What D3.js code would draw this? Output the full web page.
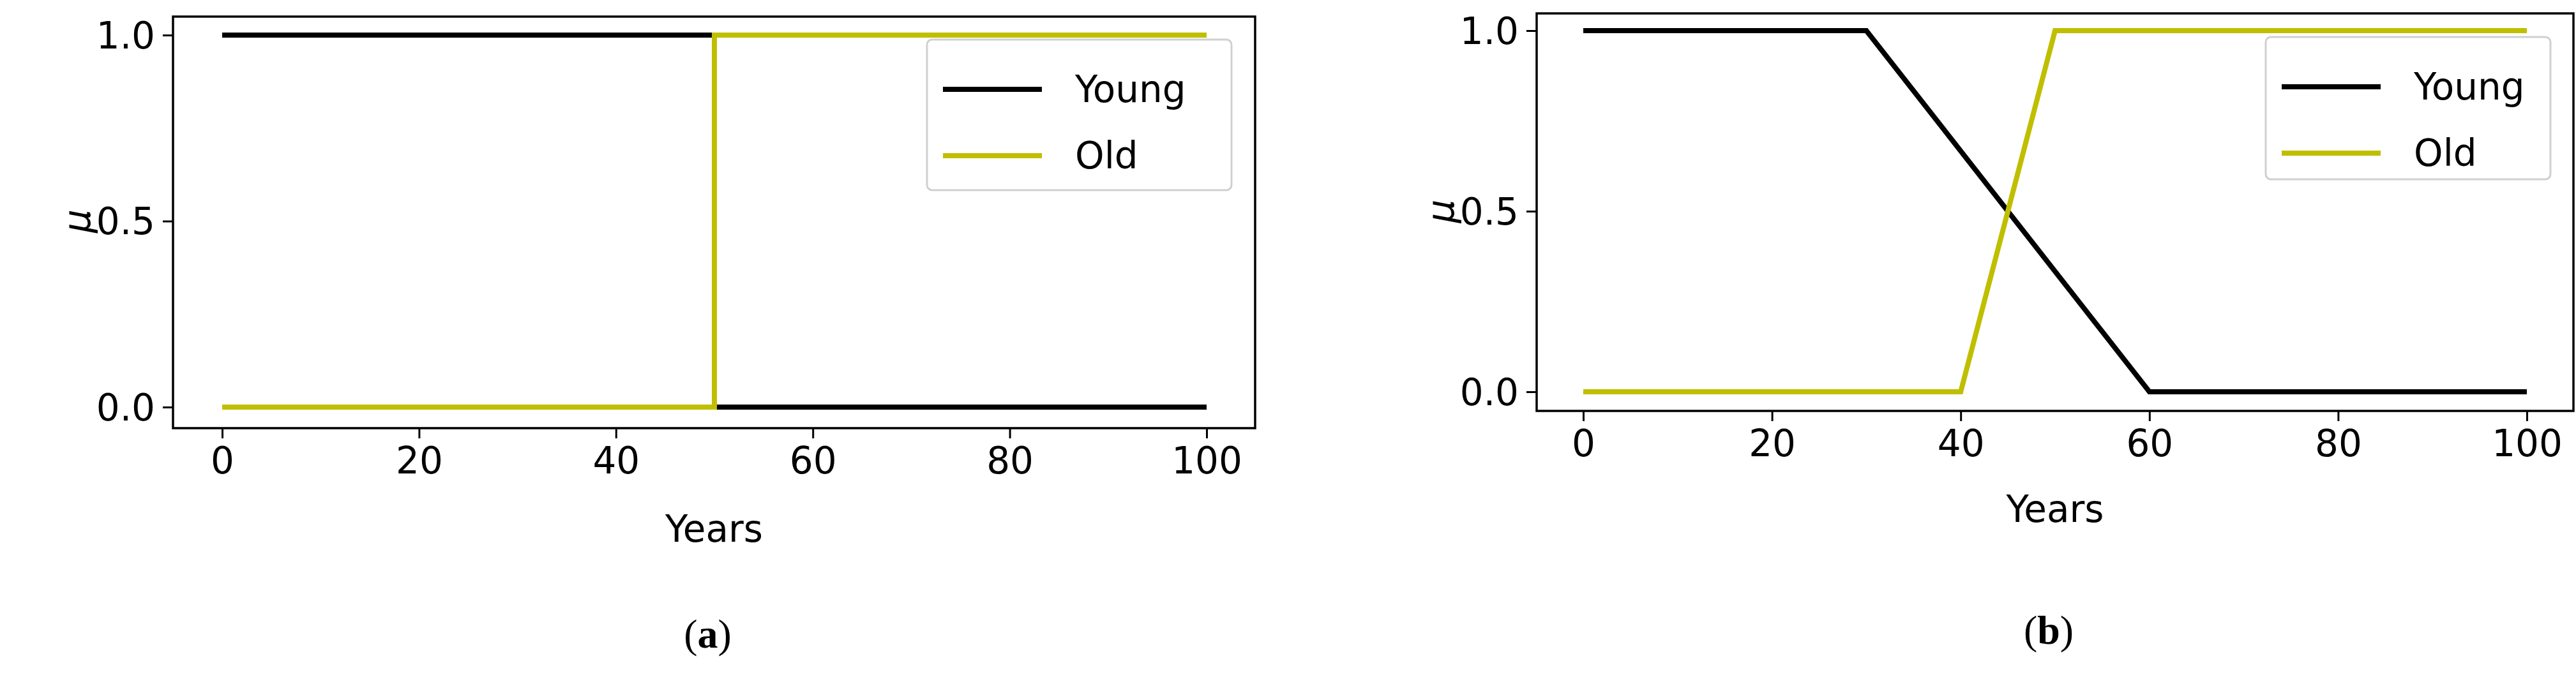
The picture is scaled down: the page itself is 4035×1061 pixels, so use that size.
<!DOCTYPE html>
<html>
<head>
<meta charset="utf-8">
<script src="https://cdn.jsdelivr.net/npm/d3@7"></script>
<style>
  body { margin: 0; background: #fff; }
  svg { display: block; }
</style>
</head>
<body>
<svg id="chart" width="4035" height="1061"></svg>
<script>
const xTicks = [0, 20, 40, 60, 80, 100];
const yTicks = [0.0, 0.5, 1.0];
const seriesNames = ['Young', 'Old'];
const seriesColors = ['#000000', '#bfbf00'];

// panel (a): crisp sets
const crispYears = [0, 50, 50, 100];
const crispYoung = [1, 1, 0, 0];
const crispOld = [0, 0, 1, 1];

// panel (b): fuzzy sets
const fuzzyYoungYears = [0, 30, 60, 100];
const fuzzyYoung = [1, 1, 0, 0];
const fuzzyOldYears = [0, 40, 50, 100];
const fuzzyOld = [0, 0, 1, 1];

const panels = [
  {
    label: 'a', box: [271, 26, 1966, 671], x0: 348, x1: 1890, y0: 638, y1: 55,
    legend: [1452, 62, 1929, 298], tickY: 746, titleY: 849, capY: 1015,
    series: [
      crispYears.map((x, i) => [x, crispYoung[i]]),
      crispYears.map((x, i) => [x, crispOld[i]])
    ]
  },
  {
    label: 'b', box: [2407, 21, 4031, 644], x0: 2480, x1: 3958, y0: 614, y1: 48,
    legend: [3549, 58, 3995, 281], tickY: 723, titleY: 818, capY: 1009,
    series: [
      fuzzyYoungYears.map((x, i) => [x, fuzzyYoung[i]]),
      fuzzyOldYears.map((x, i) => [x, fuzzyOld[i]])
    ]
  }
];

const svg = d3.select('#chart');
const font = 'DejaVu Sans, sans-serif';

panels.forEach(p => {
  const [bx0, by0, bx1, by1] = p.box;
  const x = d3.scaleLinear().domain([0, 100]).range([p.x0, p.x1]);
  const y = d3.scaleLinear().domain([0, 1]).range([p.y0, p.y1]);
  const g = svg.append('g');

  // axes
  const xAxis = g.append('g')
    .attr('transform', `translate(0,${by1})`)
    .call(d3.axisBottom(x).tickValues(xTicks).tickSize(16).tickPadding(14).tickFormat(d3.format('d')));
  const yAxis = g.append('g')
    .attr('transform', `translate(${bx0},0)`)
    .call(d3.axisLeft(y).tickValues(yTicks).tickSize(16).tickPadding(12).tickFormat(d3.format('.1f')));
  [xAxis, yAxis].forEach(a => {
    a.select('.domain').remove();
    a.selectAll('line').attr('stroke', '#000').attr('stroke-width', 3);
    a.selectAll('text').attr('font-family', font).attr('font-size', 58).attr('fill', '#000');
  });
  yAxis.selectAll('text').attr('dy', '0.35em');

  // lines
  const line = d3.line().x(d => x(d[0])).y(d => y(d[1]));
  p.series.forEach((s, i) => {
    g.append('path')
      .datum(s)
      .attr('d', line)
      .attr('fill', 'none')
      .attr('stroke', seriesColors[i])
      .attr('stroke-width', 8);
  });

  // frame
  g.append('rect')
    .attr('x', bx0).attr('y', by0)
    .attr('width', bx1 - bx0).attr('height', by1 - by0)
    .attr('fill', 'none').attr('stroke', '#000').attr('stroke-width', 3.5);

  // axis labels
  g.append('text')
    .attr('x', (bx0 + bx1) / 2).attr('y', p.titleY)
    .attr('text-anchor', 'middle')
    .attr('font-family', font).attr('font-size', 58)
    .text('Years');
  g.append('text')
    .attr('transform', `translate(${bx0 - 150},${y(0.5)}) rotate(-90)`)
    .attr('text-anchor', 'middle')
    .attr('dy', '0.35em')
    .attr('font-family', font).attr('font-size', 58).attr('font-style', 'italic')
    .text('μ');

  // legend
  const [lx0, ly0, lx1, ly1] = p.legend;
  g.append('rect')
    .attr('x', lx0).attr('y', ly0)
    .attr('width', lx1 - lx0).attr('height', ly1 - ly0)
    .attr('rx', 8)
    .attr('fill', 'rgba(255,255,255,0.8)').attr('stroke', '#d0d0d0').attr('stroke-width', 3);
  seriesNames.forEach((name, i) => {
    const ly = ly0 + 78 + i * 104;
    g.append('line')
      .attr('x1', lx0 + 25).attr('x2', lx0 + 180)
      .attr('y1', ly).attr('y2', ly)
      .attr('stroke', seriesColors[i]).attr('stroke-width', 8);
    g.append('text')
      .attr('x', lx0 + 232).attr('y', ly)
      .attr('dy', '0.35em')
      .attr('font-family', font).attr('font-size', 58)
      .text(name);
  });

  // caption
  const cap = g.append('text')
    .attr('x', (bx0 + bx1) / 2 - 10).attr('y', p.capY)
    .attr('text-anchor', 'middle')
    .attr('font-family', 'Liberation Serif, serif').attr('font-size', 64);
  cap.append('tspan').text('(');
  cap.append('tspan').attr('font-weight', 'bold').text(p.label);
  cap.append('tspan').text(')');
});
</script>
</body>
</html>
